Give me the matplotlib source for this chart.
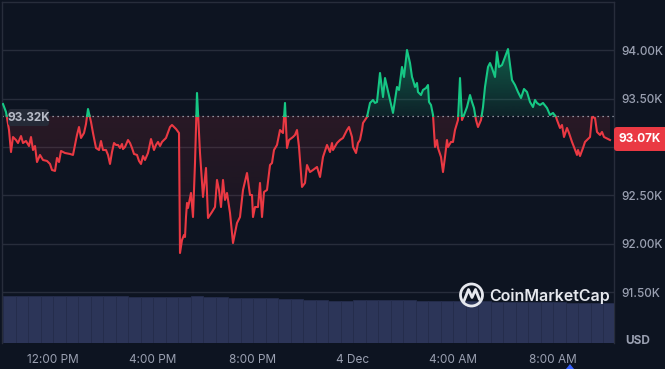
import numpy as np
import matplotlib
matplotlib.use("Agg")
import matplotlib.pyplot as plt
from matplotlib.patches import FancyBboxPatch, PathPatch, Circle, Polygon
from matplotlib.path import Path
from matplotlib.colors import to_rgb

plt.rcParams['font.family'] = ['Inter', 'DejaVu Sans']

# price, hours after 12:00 PM (3 Dec)
hours = [-2.00, -1.88, -1.76, -1.68, -1.60, -1.48, -1.40, -1.28, -1.20, -1.08,
         -0.96, -0.88, -0.80, -0.72, -0.64, -0.52, -0.40, -0.24, -0.12, -0.04,
         0.08, 0.16, 0.24, 0.32, 0.48, 0.68, 0.80, 0.96, 1.04, 1.12,
         1.24, 1.32, 1.40, 1.52, 1.60, 1.72, 1.84, 1.92, 2.00, 2.12,
         2.20, 2.28, 2.36, 2.44, 2.52, 2.60, 2.68, 2.76, 2.80, 2.88,
         3.00, 3.08, 3.16, 3.24, 3.36, 3.44, 3.52, 3.60, 3.68, 3.80,
         3.92, 4.04, 4.12, 4.20, 4.28, 4.36, 4.52, 4.68, 4.76, 4.92,
         5.04, 5.08, 5.16, 5.24, 5.28, 5.32, 5.36, 5.40, 5.52, 5.60,
         5.68, 5.76, 5.88, 6.00, 6.12, 6.20, 6.36, 6.48, 6.56, 6.64,
         6.72, 6.80, 6.88, 6.96, 7.08, 7.20, 7.28, 7.36, 7.48, 7.60,
         7.76, 7.88, 7.96, 8.00, 8.08, 8.20, 8.28, 8.36, 8.44, 8.56,
         8.68, 8.76, 8.84, 8.96, 9.08, 9.20, 9.28, 9.36, 9.44, 9.60,
         9.68, 9.76, 9.84, 9.96, 10.08, 10.16, 10.28, 10.40, 10.56, 10.68,
         10.80, 10.96, 11.08, 11.16, 11.20, 11.36, 11.48, 11.60, 11.76, 11.84,
         11.96, 12.00, 12.12, 12.20, 12.28, 12.36, 12.40, 12.56, 12.68, 12.80,
         12.88, 12.96, 13.08, 13.20, 13.28, 13.36, 13.48, 13.60, 13.76, 13.84,
         13.96, 14.04, 14.16, 14.28, 14.36, 14.40, 14.48, 14.56, 14.60, 14.72,
         14.80, 14.92, 15.00, 15.04, 15.12, 15.20, 15.28, 15.36, 15.40, 15.52,
         15.60, 15.68, 15.76, 15.80, 15.92, 16.00, 16.08, 16.20, 16.28, 16.36,
         16.44, 16.56, 16.68, 16.76, 16.84, 16.92, 17.00, 17.12, 17.20, 17.28,
         17.40, 17.48, 17.56, 17.68, 17.76, 17.84, 17.96, 18.08, 18.20, 18.36,
         18.48, 18.60, 18.72, 18.84, 18.96, 19.08, 19.20, 19.28, 19.36, 19.48,
         19.60, 19.76, 19.88, 20.00, 20.12, 20.16, 20.28, 20.36, 20.44, 20.56,
         20.64, 20.76, 20.84, 20.96, 21.00, 21.08, 21.20, 21.28, 21.36, 21.48,
         21.56, 21.68, 21.76, 21.88, 21.96, 22.04, 22.12, 22.28]
price = [93443, 93361, 93175, 92948, 93103, 93072, 93041, 93113, 93041, 93062,
         93010, 93103, 92969, 93010, 92845, 92918, 92866, 92856, 92825, 92763,
         92753, 92887, 92845, 92959, 92938, 92928, 92918, 93124, 93206, 93093,
         93144, 93237, 93392, 93258, 93144, 92990, 92969, 93062, 92969, 92969,
         92918, 92825, 92948, 93041, 93021, 93021, 92990, 93031, 92979, 93000,
         93072, 93041, 92990, 92928, 92918, 92856, 92825, 92907, 92866, 92938,
         93082, 92969, 93021, 93052, 93010, 93052, 93093, 93206, 93227, 93186,
         93144, 91907, 92041, 92093, 92072, 92278, 92423, 92371, 92526, 92278,
         92835, 93557, 92938, 92485, 92784, 92268, 92330, 92381, 92660, 92557,
         92381, 92660, 92454, 92526, 92320, 92010, 92113, 92216, 92278, 92557,
         92732, 92505, 92505, 92278, 92381, 92381, 92629, 92278, 92536, 92557,
         92814, 92835, 92969, 93021, 93175, 93144, 93454, 92990, 93072, 93103,
         93124, 93175, 93000, 92588, 92629, 92814, 92742, 92763, 92794, 92691,
         92897, 93021, 92948, 93041, 92969, 93041, 93072, 93093, 93175, 93206,
         93103, 93000, 92938, 93041, 93072, 93175, 93247, 93309, 93454, 93485,
         93454, 93464, 93763, 93515, 93711, 93619, 93485, 93351, 93619, 93588,
         93825, 93722, 94000, 93866, 93722, 93691, 93619, 93660, 93567, 93536,
         93588, 93608, 93639, 93464, 93433, 93330, 93000, 93072, 92990, 92897,
         92742, 92897, 93072, 93000, 93052, 93052, 93175, 93278, 93711, 93278,
         93330, 93412, 93536, 93464, 93402, 93278, 93206, 93278, 93412, 93619,
         93825, 93866, 93814, 93722, 93979, 93825, 93845, 93928, 94010, 93691,
         93639, 93567, 93505, 93598, 93567, 93464, 93412, 93485, 93454, 93433,
         93454, 93402, 93330, 93351, 93309, 93278, 93196, 93227, 93103, 93196,
         93144, 93052, 93000, 92918, 92969, 92907, 92990, 93052, 93072, 93103,
         93309, 93299, 93155, 93124, 93155, 93103, 93093, 93072]

# volume, one bar per 30 min starting at the first price point
volume = [47.3, 47.3, 47.5, 47.5, 47.2, 47.0, 47.0, 47.3, 46.8, 46.8,
          46.5, 46.5, 46.3, 46.5, 46.5, 46.7, 46.3, 46.0, 45.5, 45.3,
          45.0, 45.0, 44.3, 44.3, 43.0, 43.0, 42.5, 42.5, 43.0, 43.5,
          43.5, 43.0, 43.0, 42.5, 42.5, 42.0, 42.0, 42.0, 41.8, 41.5,
          41.5, 41.3, 41.0, 41.0, 40.8, 40.5, 40.5, 40.3, 40.0]
vol_start, vol_step = -2.0, 0.5

open_price = 93320
last_price = 93070
grid_levels = [91500, 92000, 92500, 93000, 93500, 94000]
grid_labels = ['91.50K', '92.00K', '92.50K', '', '93.50K', '94.00K']
tick_hours = [0, 4, 8, 12, 16, 20]
tick_labels = ['12:00 PM', '4:00 PM', '8:00 PM', '4 Dec', '4:00 AM', '8:00 AM']

BG = '#0d1421'
GRID = '#272d3b'
TXT = '#9aa0b1'
GREEN = '#16c784'
RED = '#ea3943'
VOL = '#2c3558'

W, H = 665, 369
fig = plt.figure(figsize=(W / 100, H / 100), dpi=100, facecolor=BG)

# main price axes (pixel box 2..614 x 2..343)
ax = fig.add_axes([2 / W, (H - 343) / H, 612 / W, 341 / H])
ax.set_facecolor('none')
ax.set_xlim(-2.04, 22.44)
ax.set_ylim(90979, 94495)

t = np.array(hours, dtype=float)
p = np.array(price, dtype=float)

# split the line where it crosses the open price
tt, pp = [t[0]], [p[0]]
for i in range(1, len(t)):
    a, b = p[i - 1] - open_price, p[i] - open_price
    if a * b < 0:
        f = a / (a - b)
        tt.append(t[i - 1] + f * (t[i] - t[i - 1]))
        pp.append(open_price)
    tt.append(t[i])
    pp.append(p[i])
tt = np.array(tt)
pp = np.array(pp)


def gradient_fill(mask, y0, y1, rgb, a0, a1):
    poly = ax.fill_between(tt, pp, open_price, where=mask, interpolate=True,
                           facecolor='none', edgecolor='none')
    path = Path.make_compound_path(*poly.get_paths())
    clip = PathPatch(path, transform=ax.transData, facecolor='none', edgecolor='none')
    ax.add_patch(clip)
    grad = np.zeros((256, 1, 4))
    grad[:, 0, :3] = rgb
    grad[:, 0, 3] = np.linspace(a0, a1, 256)
    im = ax.imshow(grad, extent=[tt[0], tt[-1], y0, y1], origin='lower',
                   aspect='auto', zorder=1, interpolation='bilinear')
    im.set_clip_path(clip)


gradient_fill(pp >= open_price, open_price, 94050, to_rgb(GREEN), 0.08, 0.42)
gradient_fill(pp <= open_price, 91880, open_price, to_rgb(RED), 0.03, 0.13)
ax.set_xlim(-2.04, 22.44)
ax.set_ylim(90979, 94495)

green = np.where(pp >= open_price, pp, np.nan)
red = np.where(pp <= open_price, pp, np.nan)
ax.plot(tt, red, color=RED, lw=1.5, zorder=3, solid_joinstyle='round')
ax.plot(tt, green, color=GREEN, lw=1.5, zorder=3, solid_joinstyle='round')

ax.axhline(open_price, color='#b4b8c4', lw=0.9, ls=(0, (1, 3)), zorder=2)

ax.set_yticks(grid_levels)
ax.set_yticklabels(grid_labels)
ax.yaxis.tick_right()
ax.grid(axis='y', color=GRID, lw=1)
ax.set_axisbelow(True)
ax.set_xticks(tick_hours)
ax.set_xticklabels(tick_labels)
ax.tick_params(axis='y', length=0, pad=5, labelsize=8.5, labelcolor=TXT)
ax.tick_params(axis='x', length=0, pad=8, labelsize=8.5, labelcolor=TXT)
for lab in ax.get_yticklabels():
    lab.set_fontweight('medium')
for s in ['top', 'left', 'right']:
    ax.spines[s].set_color(GRID)
    ax.spines[s].set_linewidth(1)
ax.spines['bottom'].set_visible(False)

# volume axes
vax = fig.add_axes([2 / W, (H - 343) / H, 612 / W, 48 / H], sharex=ax)
vax.set_facecolor('none')
vt = vol_start + vol_step * np.arange(len(volume))
vax.bar(vt, volume, width=vol_step, align='edge', color=VOL,
        edgecolor='#252d4c', linewidth=0.6)
vax.set_ylim(0, 48)
vax.axis('off')
vax.set_xlim(-2.04, 22.44)

# overlay in pixel coordinates for labels and watermark
ov = fig.add_axes([0, 0, 1, 1])
ov.set_xlim(0, W)
ov.set_ylim(H, 0)
ov.axis('off')
ov.set_facecolor('none')

ov.add_patch(FancyBboxPatch((8, 109), 41, 17, boxstyle='round,pad=0,rounding_size=3',
                            facecolor='#252a37', edgecolor='none'))
ov.text(28.5, 117.8, '93.32K', ha='center', va='center', fontsize=8.5,
        fontweight='bold', color='#b6bac6')

ov.add_patch(FancyBboxPatch((614, 127), 54, 24, boxstyle='round,pad=0,rounding_size=3',
                            facecolor=RED, edgecolor='none'))
ov.text(639.5, 139.5, '93.07K', ha='center', va='center', fontsize=8.5,
        fontweight='bold', color='white')

ov.text(638, 341, 'USD', ha='center', va='center', fontsize=8.5,
        fontweight='bold', color=TXT)

# CoinMarketCap watermark
ov.add_patch(Circle((471.5, 295), 11, facecolor='none', edgecolor='#e6e8ee', lw=2))
ov.plot([464, 468.5, 472, 475.5, 479.5], [301, 289.5, 297.5, 289.5, 299.5],
        color='#e6e8ee', lw=2, solid_joinstyle='round', solid_capstyle='round')
ov.text(489, 296, 'CoinMarketCap', ha='left', va='center', fontsize=11.5,
        fontweight='semibold', color='#e6e8ee')

ov.add_patch(Polygon([[566, 369], [570, 364], [574, 369]], closed=True,
                     facecolor='#3861fb', edgecolor='none'))

fig.savefig('out.png', dpi=100, facecolor=BG)
